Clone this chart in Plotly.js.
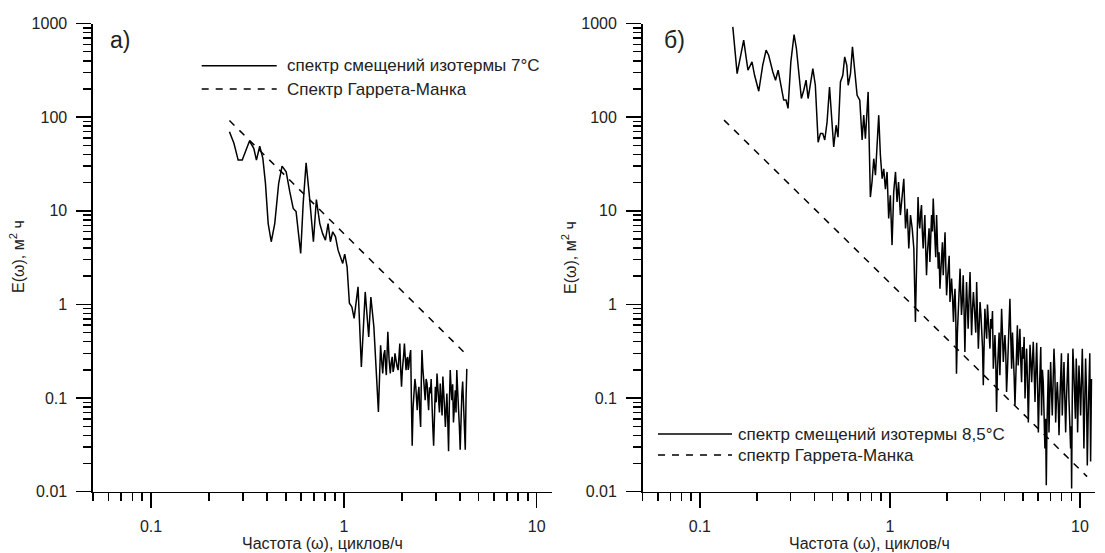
<!DOCTYPE html>
<html>
<head>
<meta charset="utf-8">
<script src="https://cdn.plot.ly/plotly-3.0.1.min.js"></script>
<style>html,body{margin:0;padding:0;background:#fff}#chart{width:1105px;height:553px}</style>
</head>
<body>
<div id="chart"></div>
<script>
// ---------- DATA ----------
// Panel а): spectrum of isotherm 7°C displacements
const freqA = [0.255,0.269,0.283,0.297,0.324,0.341,0.352,0.366,0.380,0.392,0.405,0.420,0.438,0.459,0.478,0.502,0.524,0.546,0.565,0.597,0.615,0.637,0.663,0.695,0.720,0.750,0.776,0.802,0.828,0.851,0.875,0.904,0.933,0.959,0.986,1.01,1.039,1.068,1.10,1.13,1.184,1.232,1.29,1.345,1.38,1.43,
  1.47,1.49,1.51,1.53,1.55,1.57,1.59,1.61,1.63,1.645,1.66,1.675,1.69,1.715,1.74,1.76,1.78,1.80,1.82,1.84,1.86,1.885,1.91,1.93,1.95,1.97,1.99,2.01,2.03,2.045,2.06,2.08,2.10,2.12,2.14,2.155,2.17,2.195,2.22,2.24,2.26,2.285,2.31,2.335,2.36,2.38,2.40,2.425,2.45,2.475,2.50,2.52,2.54,2.565,2.59,2.615,2.64,2.67,2.70,2.725,2.75,2.78,2.81,2.835,2.86,2.89,2.92,2.95,2.98,3.01,3.04,3.07,3.10,3.13,3.16,3.195,3.23,3.26,3.29,3.325,3.36,3.39,3.42,3.455,3.49,3.525,3.56,3.595,3.63,3.665,3.70,3.74,3.78,3.815,3.85,3.89,3.93,3.97,4.01,4.05,4.09,4.13,4.17,4.215,4.26,4.30,4.34];
const specA = [70,52.5,34.8,34.8,55.6,46.4,34.8,49,36.3,19.6,7.3,4.67,7.3,19.6,30,26.1,16,10.6,9.8,3.5,12,32.6,14.1,4.67,13.2,7.3,5.7,4.86,7.3,4.67,5.97,5.3,3.8,3.2,2.74,3.45,2.52,1.03,0.94,0.71,1.54,0.215,1.36,0.45,1.2,0.58,
  0.234,0.12,0.071,0.2,0.367,0.25,0.183,0.29,0.325,0.22,0.176,0.3,0.51,0.26,0.183,0.24,0.275,0.19,0.215,0.3,0.254,0.22,0.199,0.3,0.383,0.2,0.132,0.2,0.234,0.3,0.383,0.25,0.199,0.26,0.275,0.2,0.215,0.28,0.325,0.09,0.031,0.08,0.103,0.16,0.132,0.1,0.074,0.11,0.132,0.07,0.049,0.15,0.325,0.21,0.169,0.12,0.095,0.16,0.143,0.1,0.074,0.13,0.112,0.16,0.068,0.05,0.031,0.08,0.132,0.09,0.183,0.13,0.095,0.07,0.143,0.1,0.065,0.17,0.132,0.08,0.049,0.09,0.112,0.06,0.027,0.09,0.199,0.13,0.095,0.14,0.055,0.08,0.121,0.07,0.199,0.12,0.087,0.05,0.028,0.07,0.112,0.15,0.074,0.05,0.028,0.1,0.205];
// Garrett–Munk spectrum, panel а)
const gmFreqA = [0.255, 4.35];
const gmA = [92, 0.287];

// Panel б): spectrum of isotherm 8.5°C displacements
const freqB = [0.149,0.157,0.170,0.179,0.188,0.194,0.204,0.214,0.223,0.230,0.242,0.250,0.258,0.265,0.276,0.284,0.291,0.301,0.313,0.322,0.331,0.342,0.352,0.362,0.371,0.382,0.393,0.405,0.419,0.431,0.443,0.454,0.467,0.481,0.492,0.506,0.521,0.533,0.549,0.565,0.578,0.593,0.603,0.620,0.635,0.653,0.672,0.694,0.714,0.728,0.743,0.768,0.789,0.805,0.822,0.839,0.857,0.873,0.891,0.910,0.928,0.947,0.966,0.985,1.005,1.026,1.047,1.07,1.09,1.11,1.135,1.159,1.183,1.208,1.233,1.257,1.283,1.31,
  1.336,1.349,1.362,1.373,1.384,1.395,1.406,1.421,1.436,1.451,1.466,1.481,1.496,1.511,1.527,1.542,1.558,1.574,1.591,1.607,1.623,1.64,1.656,1.673,1.69,1.707,1.725,1.742,1.76,1.778,1.796,1.814,1.833,1.851,1.870,1.889,1.908,1.929,1.95,1.968,1.987,2.01,2.03,2.05,2.07,2.09,2.11,2.135,2.16,2.18,2.20,2.22,2.24,2.265,2.29,2.315,2.34,2.36,2.38,2.405,2.43,2.455,2.48,2.505,2.53,2.555,2.58,2.61,2.64,2.665,2.69,2.72,2.75,2.775,2.80,2.83,2.86,2.89,2.92,2.95,2.98,3.01,3.04,3.07,3.10,3.13,3.16,3.195,3.23,3.26,3.29,3.325,3.36,3.395,3.43,3.465,3.50,3.535,3.57,3.605,3.64,3.68,3.72,3.755,3.79,3.83,3.87,3.91,3.95,3.99,4.03,4.07,4.11,4.155,4.20,4.24,4.28,4.325,4.37,4.415,4.46,4.505,4.55,4.595,4.64,4.685,4.73,4.78,4.83,4.88,4.93,4.98,5.03,5.085,5.14,5.19,5.24,5.295,5.35,5.405,5.46,5.515,5.57,5.625,5.68,5.74,5.80,5.86,5.92,5.98,6.04,6.10,6.16,6.22,6.28,6.345,6.41,6.475,6.54,6.595,6.65,6.705,6.76,6.815,6.87,6.94,7.01,7.08,7.15,7.225,7.30,7.375,7.45,7.525,7.60,7.68,7.76,7.835,7.91,7.99,8.07,8.155,8.24,8.325,8.41,8.495,8.58,8.665,8.75,8.84,8.93,8.985,9.04,9.11,9.18,9.275,9.37,9.465,9.56,9.64,9.72,9.80,9.88,9.98,10.08,10.185,10.29,10.39,10.49,10.60,10.71,10.82,10.93,11.04,11.15,11.265,11.38,11.44,11.5];
const specB = [920,292,663,317,389,280,189,358,519,458,304,248,317,238,152,152,124,389,763,541,304,158,194,248,158,219,330,219,54,67,67,57,89,210,114,48,82,61,238,280,440,358,219,292,562,292,171,152,57,105,59,186,14,20.3,36,24,54,105,39,22,28,17,26,8.3,14.6,4.3,15.9,26,12.4,20.3,9,13.5,22,6.46,10.5,3.95,9,6.46,
  3.95,1.6,0.65,1.5,3.35,7,14,8,6.46,9.5,11.5,6,3.95,6,9,4,2.05,3.5,4.64,6.5,2.84,5,9,6,13.5,8,4.64,3.2,9,4.5,2.41,3.6,1.47,2.2,3.35,4.6,2.05,3.1,5.9,2.6,1.25,1.9,2.41,3.3,1.06,1.5,1.89,1.2,0.65,1.1,1.47,0.8,0.182,0.5,0.90,1.4,2.41,1.3,0.77,1.1,2.05,0.9,0.31,0.8,1.73,1.0,0.55,1.2,2.22,1.0,0.47,0.9,1.36,1.0,0.77,0.5,1.73,0.8,0.337,0.6,1.06,0.8,0.60,0.35,0.137,0.45,0.90,0.6,0.43,1.0,0.77,0.5,0.337,0.7,0.55,0.85,0.206,0.3,0.47,0.25,0.071,0.2,0.337,0.5,0.175,0.45,0.90,0.5,0.243,0.35,0.47,0.3,0.116,0.2,0.337,0.6,1.15,0.45,0.206,0.5,0.337,0.17,0.084,0.2,0.40,0.6,0.223,0.35,0.55,0.25,0.148,0.35,0.264,0.45,0.099,0.2,0.337,0.15,0.055,0.15,0.37,0.25,0.148,0.25,0.40,0.2,0.091,0.2,0.39,0.15,0.043,0.1,0.206,0.35,0.065,0.2,0.148,0.08,0.029,0.06,0.0117,0.05,0.099,0.2,0.043,0.12,0.243,0.12,0.065,0.15,0.337,0.2,0.055,0.1,0.148,0.09,0.040,0.09,0.175,0.3,0.065,0.12,0.243,0.1,0.043,0.1,0.206,0.3,0.099,0.06,0.029,0.05,0.0108,0.1,0.337,0.2,0.099,0.06,0.264,0.15,0.043,0.1,0.223,0.13,0.065,0.15,0.337,0.12,0.029,0.09,0.264,0.12,0.019,0.06,0.148,0.3,0.021,0.08,0.16];
// Garrett–Munk spectrum, panel б)
const gmFreqB = [0.134, 10.9];
const gmB = [93, 0.0145];

// Text
const panelLabels = ['а)', 'б)'];
const legendA = ['спектр смещений изотермы 7°С', 'Спектр Гаррета-Манка'];
const legendB = ['спектр смещений изотермы 8,5°С', 'спектр Гаррета-Манка'];
const xTitle = 'Частота (ω), циклов/ч';
const yTitle = 'E(ω), м<sup>2</sup> ч';

// ---------- LAYOUT ----------
const W = 1105, H = 553;
const FONT = 'Liberation Sans, Arial, sans-serif';
const fx = x => x / W, fy = y => 1 - y / H;

const solid = {color: '#000', width: 1.5};
const dashed = {color: '#000', width: 1.5, dash: '7px,7px'};

const traces = [
  {x: freqA, y: specA, xaxis: 'x', yaxis: 'y', mode: 'lines', line: solid},
  {x: gmFreqA, y: gmA, xaxis: 'x', yaxis: 'y', mode: 'lines', line: dashed},
  {x: freqB, y: specB, xaxis: 'x2', yaxis: 'y2', mode: 'lines', line: solid},
  {x: gmFreqB, y: gmB, xaxis: 'x2', yaxis: 'y2', mode: 'lines', line: dashed}
];

function axis(domain, anchor, range, standoff) {
  return {
    type: 'log', domain: domain, anchor: anchor, range: range,
    showline: true, linecolor: '#000', linewidth: 1.6,
    ticks: 'outside', ticklen: 15, tickwidth: 1.5, tickcolor: '#000',
    tickmode: 'linear', tick0: 0, dtick: 1, exponentformat: 'none',
    tickfont: {family: FONT, size: 16, color: '#222'},
    ticklabelstandoff: standoff,
    showgrid: false, zeroline: false, fixedrange: true,
    minor: {ticks: 'outside', ticklen: 8, tickwidth: 1.5, tickcolor: '#000', dtick: 'D1', showgrid: false}
  };
}
const xRange = [Math.log10(0.05), Math.log10(12)];
const yRange = [-2, 3];
const yDom = [fy(491.7), fy(23.5)];
const shapes = [];
const annotations = [];

function legend(x0, x1, xt, ys, texts) {
  [solid, dashed].forEach((ln, i) => {
    shapes.push({type: 'line', xref: 'paper', yref: 'paper', x0: fx(x0), x1: fx(x1), y0: fy(ys[i]), y1: fy(ys[i]), line: ln});
    annotations.push({xref: 'paper', yref: 'paper', x: fx(xt), y: fy(ys[i]), xanchor: 'left', yanchor: 'middle', showarrow: false,
      text: texts[i], font: {family: FONT, size: 17, color: '#222'}});
  });
}
legend(201.7, 276.7, 285, [65.7, 89], legendA);
legend(658, 732, 736, [434, 455], legendB);

[[108, 40], [662, 40]].forEach((p, i) => annotations.push({xref: 'paper', yref: 'paper', x: fx(p[0]), y: fy(p[1]), xanchor: 'left', yanchor: 'middle',
  showarrow: false, text: panelLabels[i], font: {family: FONT, size: 23, color: '#222'}}));
[322, 869].forEach(c => annotations.push({xref: 'paper', yref: 'paper', x: fx(c), y: fy(543), xanchor: 'center', yanchor: 'middle',
  showarrow: false, text: xTitle, font: {family: FONT, size: 16, color: '#222'}}));
[17, 569].forEach(c => annotations.push({xref: 'paper', yref: 'paper', x: fx(c), y: fy(257), xanchor: 'center', yanchor: 'middle',
  textangle: -90, showarrow: false, text: yTitle, font: {family: FONT, size: 16, color: '#222'}}));

const layout = {
  width: W, height: H, margin: {l: 0, r: 0, t: 0, b: 0},
  paper_bgcolor: '#fff', plot_bgcolor: '#fff', showlegend: false,
  font: {family: FONT, size: 16, color: '#222'},
  xaxis: axis([fx(93), fx(552)], 'y', xRange, 4),
  yaxis: axis(yDom, 'x', yRange, 6),
  xaxis2: axis([fx(642.7), fx(1095)], 'y2', xRange, 4),
  yaxis2: axis(yDom, 'x2', yRange, 6),
  shapes: shapes, annotations: annotations
};

Plotly.newPlot('chart', traces, layout, {staticPlot: true, displayModeBar: false});
</script>
</body>
</html>
